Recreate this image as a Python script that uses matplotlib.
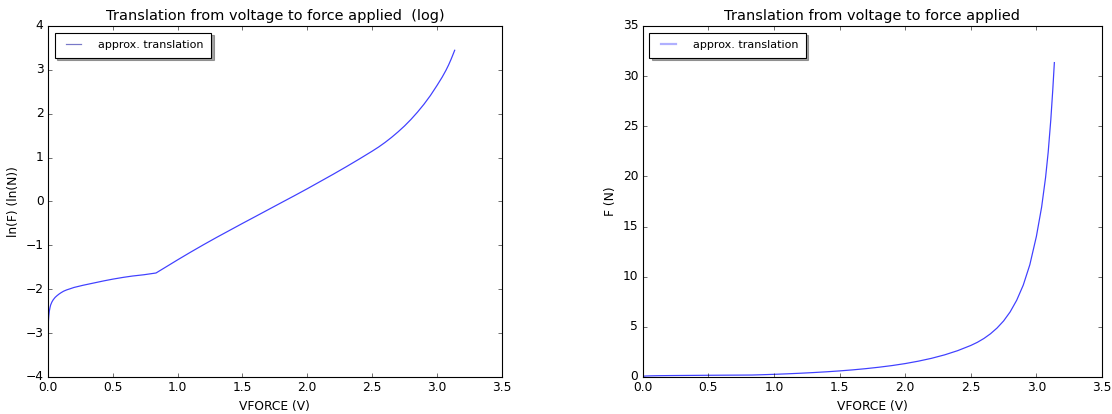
import matplotlib
matplotlib.use("Agg")
import matplotlib.pyplot as plt
import numpy as np

# values (VFORCE in V, ln(F) in ln(N))
vforce = [0.0, 0.003, 0.006, 0.01, 0.015, 0.02, 0.03, 0.04, 0.055, 0.07, 0.085,
          0.1, 0.12, 0.144, 0.17, 0.2, 0.27, 0.35, 0.43, 0.5, 0.58, 0.65, 0.74, 0.833,
          0.9, 1.0, 1.1, 1.2, 1.3, 1.4, 1.5, 1.6, 1.7, 1.8, 1.9, 2.0,
          2.1, 2.2, 2.3, 2.4, 2.5, 2.55, 2.6, 2.65, 2.7, 2.75, 2.8, 2.85, 2.9, 2.95, 3.0,
          3.04, 3.07, 3.09, 3.11, 3.125, 3.137]
ln_force = [-3.0, -2.72, -2.6, -2.5, -2.42, -2.36, -2.29, -2.24, -2.185, -2.145, -2.11,
            -2.08, -2.045, -2.015, -1.99, -1.96, -1.91, -1.86, -1.81, -1.77, -1.73, -1.70, -1.67, -1.63,
            -1.51, -1.33, -1.155, -0.985, -0.82, -0.66, -0.50, -0.343, -0.185, -0.027, 0.13, 0.29,
            0.455, 0.62, 0.79, 0.965, 1.145, 1.24, 1.345, 1.46, 1.585, 1.72, 1.87, 2.035, 2.215, 2.415, 2.64,
            2.83, 2.99, 3.11, 3.245, 3.355, 3.445]

vforce = np.array(vforce)
ln_force = np.array(ln_force)
force = np.exp(ln_force)  # same series shown in N on the right panel

plt.style.use("classic")
fig = plt.figure(figsize=(13.9, 5.175), dpi=80)
ax1 = fig.add_axes([0.0432, 0.0894, 0.408, 0.848])
ax2 = fig.add_axes([0.578, 0.0894, 0.413, 0.848])

line_col = "#4040ff"
leg_kw = dict(loc="upper left", fontsize=10, shadow=True, fancybox=False,
              borderpad=0.7, handlelength=2.0, handletextpad=1.2, borderaxespad=0.6)

ax1.plot(vforce, ln_force, color=line_col, lw=1.1, label="approx. translation")
ax1.set_xlim(0, 3.5)
ax1.set_ylim(-4, 4)
ax1.set_title("Translation from voltage to force applied  (log)", fontsize=13)
ax1.set_xlabel("VFORCE (V)", fontsize=11)
ax1.set_ylabel("ln(F) (ln(N))", fontsize=11)
leg1 = ax1.legend(**leg_kw)
leg1.get_lines()[0].set_color("#7878c8")

ax2.plot(vforce, force, color=line_col, lw=1.1, label="approx. translation")
ax2.set_xlim(0, 3.5)
ax2.set_ylim(0, 35)
ax2.set_title("Translation from voltage to force applied", fontsize=13)
ax2.set_xlabel("VFORCE (V)", fontsize=11)
ax2.set_ylabel("F (N)", fontsize=11)
leg2 = ax2.legend(**leg_kw)
leg2.get_lines()[0].set_color("#b0b0ff")
leg2.get_lines()[0].set_linewidth(2)

for ax in (ax1, ax2):
    ax.tick_params(labelsize=11)

plt.savefig("out.png", dpi=80)
